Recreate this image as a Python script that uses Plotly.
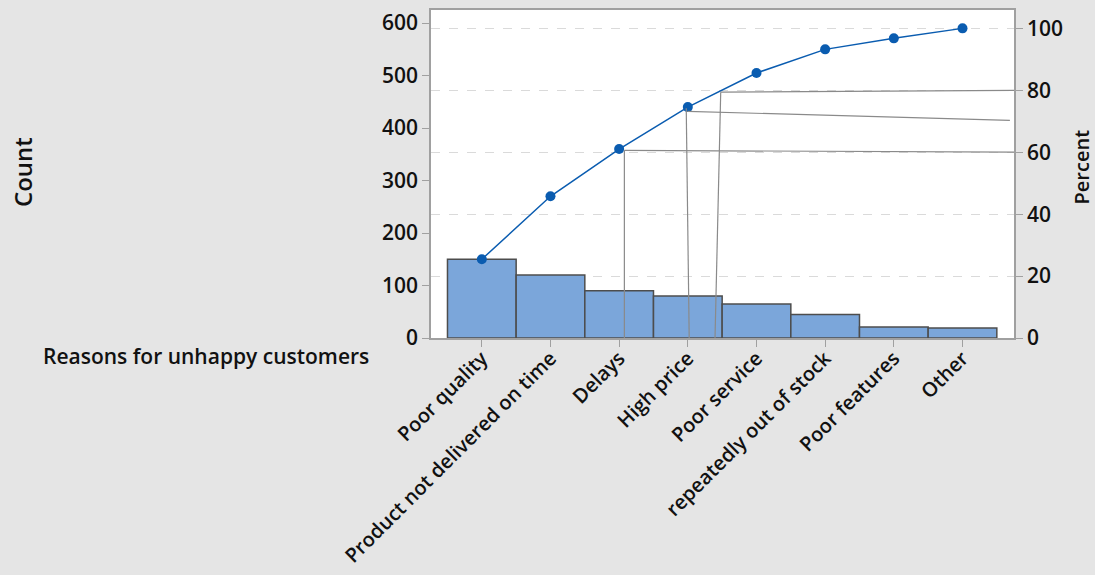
import plotly.graph_objects as go

categories = ["Poor quality", "Product not delivered on time", "Delays", "High price",
              "Poor service", "repeatedly out of stock", "Poor features", "Other"]
counts = [150, 120, 90, 80, 65, 45, 21, 19]
left_ticks = [0, 100, 200, 300, 400, 500, 600]
right_ticks = [0, 20, 40, 60, 80, 100]

# stray grey leader lines visible in the reference (category index, percent)
guide_lines = [
    ((2.076, 60.6), (2.076, 0.0)),
    ((2.076, 60.6), (7.75, 60.0)),
    ((2.977, 74.2), (3.02, 0.0)),
    ((2.993, 73.2), (7.69, 70.3)),
    ((3.479, 79.4), (3.396, 0.0)),
    ((3.479, 79.4), (7.75, 80.0)),
]

total = sum(counts)
cum = []
s = 0
for c in counts:
    s += c
    cum.append(s)
cum_pct = [v / total * 100 for v in cum]

xs = list(range(len(categories)))
y_max = 625
font = dict(family="Open Sans", size=21, color="#111111", weight=600)
xfont = dict(family="Open Sans", size=20, color="#111111", weight=600)

fig = go.Figure()
fig.add_trace(go.Bar(x=xs, y=counts, width=1.0,
                     marker=dict(color="#7BA6DA", line=dict(color="#4D4D4D", width=1.5)),
                     yaxis="y"))
fig.add_trace(go.Scatter(x=xs, y=cum_pct, mode="lines+markers",
                         line=dict(color="#0A5CB0", width=1.5),
                         marker=dict(color="#0A5CB0", size=10),
                         yaxis="y2"))

for (x0, y0), (x1, y1) in guide_lines:
    fig.add_shape(type="line", x0=x0, y0=y0, x1=x1, y1=y1, xref="x", yref="y2",
                  line=dict(color="#8A8A8A", width=1.2), layer="above")

fig.update_layout(
    width=1095, height=575,
    paper_bgcolor="#E5E5E5", plot_bgcolor="#FFFFFF",
    margin=dict(l=431, r=81, t=10, b=237, autoexpand=False),
    showlegend=False,
    font=font,
    xaxis=dict(range=[-0.74, 7.75], tickmode="array", tickvals=xs, ticktext=categories,
               tickangle=-45, ticks="outside", ticklen=7, tickcolor="#A0A0A0",
               ticklabelstandoff=-8,
               showline=True, linecolor="#A0A0A0", linewidth=1.5, mirror=True,
               showgrid=False, zeroline=False, tickfont=xfont, automargin=False),
    yaxis=dict(range=[0, y_max], tickvals=left_ticks, ticks="outside", ticklen=7,
               tickcolor="#A0A0A0", showline=True, linecolor="#A0A0A0", linewidth=1.5,
               showgrid=False, zeroline=False, tickfont=font, automargin=False),
    yaxis2=dict(range=[0, y_max * 100 / total], tickvals=right_ticks, overlaying="y",
                side="right", ticks="outside", ticklen=7, tickcolor="#A0A0A0",
                showline=True, linecolor="#A0A0A0", linewidth=1.5,
                showgrid=True, gridcolor="#DADADA", griddash="dash", gridwidth=1,
                zeroline=False, tickfont=font, automargin=False),
)

fig.add_annotation(text="Count", xref="paper", yref="paper", x=-0.7015, y=0.506,
                   textangle=-90, showarrow=False,
                   font=dict(family="Open Sans", size=24, color="#111111", weight=600),
                   xanchor="center", yanchor="middle")
fig.add_annotation(text="Percent", xref="paper", yref="paper", x=1.115, y=0.52,
                   textangle=-90, showarrow=False,
                   font=dict(family="Open Sans", size=20, color="#111111", weight=600),
                   xanchor="center", yanchor="middle")
fig.add_annotation(text="Reasons for unhappy customers", xref="paper", yref="paper",
                   x=-0.103, y=-0.055, showarrow=False, font=font,
                   xanchor="right", yanchor="middle")

fig.write_html("out.html")
